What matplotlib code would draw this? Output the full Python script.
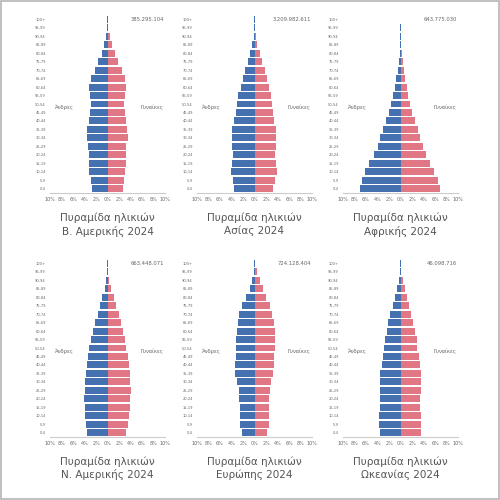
import matplotlib
matplotlib.use("Agg")
from matplotlib import pyplot as plt
from matplotlib.patches import Rectangle

plt.rcParams['font.family'] = ['Liberation Sans Narrow', 'DejaVu Sans']

# age groups, bottom to top
ages = ["0-4", "5-9", "10-14", "15-19", "20-24", "25-29", "30-34", "35-39",
        "40-44", "45-49", "50-54", "55-59", "60-64", "65-69", "70-74",
        "75-79", "80-84", "85-89", "90-94", "95-99", "100+"]

regions = ["Β. Αμερικής", "Ασίας", "Αφρικής", "Ν. Αμερικής", "Ευρώπης", "Ωκεανίας"]
totals = ["385.295.104", "3.209.982.611", "643.775.030",
          "663.448.071", "724.128.404", "46.098.716"]

# percent of population, men / women
men_nam = [2.75, 2.9, 3.15, 3.3, 3.3, 3.4, 3.6, 3.5, 3.3, 3.0, 2.9, 3.0, 3.15,
           2.85, 2.15, 1.6, 1.0, 0.6, 0.3, 0.1, 0.03]
women_nam = [2.65, 2.8, 3.05, 3.2, 3.2, 3.3, 3.5, 3.45, 3.3, 3.05, 2.95, 3.1, 3.3,
             3.05, 2.45, 1.85, 1.3, 0.85, 0.45, 0.15, 0.03]

men_asia = [3.5, 3.8, 4.1, 4.0, 3.8, 3.85, 3.9, 3.85, 3.5, 3.2, 3.0, 2.8, 2.35,
            2.05, 1.65, 1.15, 0.75, 0.35, 0.15, 0.05, 0.01]
women_asia = [3.25, 3.55, 3.85, 3.8, 3.65, 3.7, 3.8, 3.75, 3.4, 3.15, 3.0, 2.85,
              2.45, 2.2, 1.8, 1.35, 0.95, 0.5, 0.22, 0.06, 0.01]

men_afr = [7.1, 6.7, 6.1, 5.4, 4.55, 4.0, 3.5, 3.05, 2.6, 2.05, 1.65, 1.3, 1.0,
           0.7, 0.47, 0.3, 0.15, 0.07, 0.02, 0.005, 0.0]
women_afr = [6.9, 6.45, 5.85, 5.2, 4.4, 3.9, 3.4, 3.0, 2.55, 2.05, 1.7, 1.35, 1.1,
             0.8, 0.55, 0.35, 0.2, 0.08, 0.03, 0.01, 0.0]

men_sam = [3.5, 3.75, 3.9, 4.0, 4.05, 4.0, 3.9, 3.8, 3.6, 3.4, 3.15, 2.85, 2.55,
           2.15, 1.7, 1.3, 0.9, 0.45, 0.22, 0.08, 0.02]
women_sam = [3.3, 3.6, 3.75, 3.85, 3.95, 4.0, 3.95, 3.85, 3.7, 3.5, 3.3, 3.05,
             2.75, 2.4, 1.95, 1.55, 1.1, 0.65, 0.32, 0.12, 0.03]

men_eur = [2.15, 2.45, 2.55, 2.55, 2.65, 2.75, 3.05, 3.4, 3.35, 3.3, 3.3, 3.2,
           3.1, 2.9, 2.65, 2.1, 1.45, 0.8, 0.45, 0.15, 0.05]
women_eur = [2.15, 2.45, 2.55, 2.5, 2.55, 2.7, 2.9, 3.25, 3.4, 3.45, 3.5, 3.5,
             3.5, 3.35, 3.05, 2.7, 2.05, 1.45, 0.9, 0.45, 0.1]

men_oce = [3.6, 3.7, 3.7, 3.55, 3.55, 3.6, 3.6, 3.5, 3.3, 3.05, 2.8, 2.7, 2.35,
           2.1, 1.75, 1.35, 0.9, 0.6, 0.3, 0.1, 0.02]
women_oce = [3.6, 3.5, 3.5, 3.4, 3.45, 3.55, 3.65, 3.6, 3.35, 3.15, 2.95, 2.8,
             2.45, 2.2, 1.9, 1.5, 1.1, 0.75, 0.4, 0.15, 0.03]

men = [men_nam, men_asia, men_afr, men_sam, men_eur, men_oce]
women = [women_nam, women_asia, women_afr, women_sam, women_eur, women_oce]

xticks = [-10, -8, -6, -4, -2, 0, 2, 4, 6, 8, 10]
xlabels = ["10%", "8%", "6%", "4%", "2%", "0%", "2%", "4%", "6%", "8%", "10%"]

blue = "#4671b0"
pink = "#e17785"
grey = "#666666"

fig = plt.figure(figsize=(5, 5), dpi=100)
fig.patches.append(Rectangle((0.002, 0.002), 0.996, 0.996, transform=fig.transFigure,
                             fill=False, edgecolor="#b5b5b5", linewidth=1.2))

lefts = [0.1, 0.394, 0.686]
bottoms = [0.614, 0.126]
w, h = 0.23, 0.356

for i in range(6):
    row, col = divmod(i, 3)
    ax = fig.add_axes([lefts[col], bottoms[row], w, h])
    y = list(range(len(ages)))
    ax.barh(y, [-v for v in men[i]], height=0.82, color=blue, linewidth=0)
    ax.barh(y, women[i], height=0.82, color=pink, linewidth=0)
    ax.set_xlim(-10, 10)
    ax.set_ylim(-0.5, 20.5)
    ax.set_yticks(y)
    ax.set_yticklabels(ages, fontsize=2.6, color=grey)
    ax.set_xticks(xticks)
    ax.set_xticklabels(xlabels, fontsize=3.5, color=grey)
    ax.tick_params(axis="both", length=0, pad=3)
    for s in ["top", "right", "left"]:
        ax.spines[s].set_visible(False)
    ax.spines["bottom"].set_color("#cccccc")
    ax.spines["bottom"].set_linewidth(0.8)
    ax.text(-7.5, 9.6, "Άνδρες", fontsize=3.8, color=grey, ha="center", va="center")
    ax.text(7.7, 9.6, "Γυναίκες", fontsize=3.8, color=grey, ha="center", va="center")
    ax.text(9.8, 20, totals[i], fontsize=3.8, color=grey, ha="right", va="center")
    cx = lefts[col] + w / 2
    ty = bottoms[row] - 0.05
    fig.text(cx, ty, "Πυραμίδα ηλικιών", fontsize=7.5, color="#555555",
             ha="center", va="center")
    fig.text(cx, ty - 0.026, regions[i] + " 2024", fontsize=7.5, color="#555555",
             ha="center", va="center")

fig.savefig("out.png", dpi=100, facecolor="white")
